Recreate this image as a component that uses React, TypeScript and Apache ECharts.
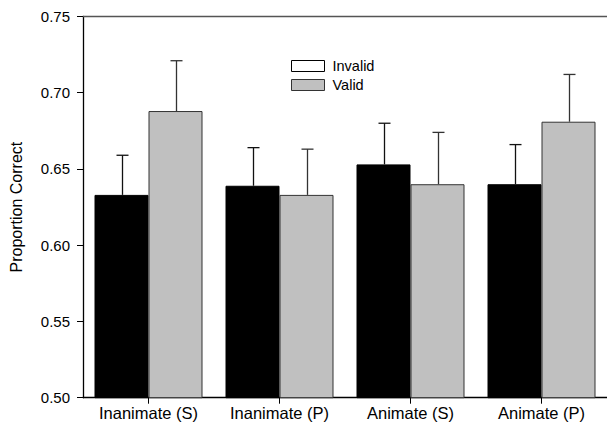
import React, { useEffect, useRef } from "react";
import * as echarts from "echarts";

const categories = ["Inanimate (S)", "Inanimate (P)", "Animate (S)", "Animate (P)"];
const invalidValues = [0.633, 0.639, 0.653, 0.640];
const invalidErrorTops = [0.659, 0.664, 0.680, 0.666];
const validValues = [0.688, 0.633, 0.640, 0.681];
const validErrorTops = [0.721, 0.663, 0.674, 0.712];
const yTicks = { min: 0.5, max: 0.75, interval: 0.05 };

const BAR_W = 54;

function errorSeries(name: string, values: number[], tops: number[], offset: number, color: string) {
  return {
    type: "custom",
    name: name + " err",
    xAxisIndex: 0,
    yAxisIndex: 0,
    z: 5,
    silent: true,
    data: values.map((v, i) => [i, v, tops[i]]),
    renderItem: (params: any, api: any) => {
      const i = api.value(0);
      const base = api.coord([i, api.value(1)]);
      const top = api.coord([i, api.value(2)]);
      const x = Math.round(base[0] + offset) + 0.5;
      const cap = 6;
      return {
        type: "group",
        children: [
          { type: "line", shape: { x1: x, y1: base[1], x2: x, y2: top[1] }, style: { stroke: color, lineWidth: 1.3 } },
          { type: "line", shape: { x1: x - cap, y1: top[1], x2: x + cap, y2: top[1] }, style: { stroke: color, lineWidth: 1.3 } },
        ],
      };
    },
  };
}

export default function App() {
  const ref = useRef<HTMLDivElement>(null);
  useEffect(() => {
    const chart = echarts.init(ref.current!, null, { renderer: "svg" });
    chart.setOption({
      animation: false,
      backgroundColor: "#ffffff",
      textStyle: { fontFamily: "Liberation Sans, Arial, sans-serif" },
      grid: { left: 82, top: 16.5, width: 529.6, height: 381.2, containLabel: false },
      legend: {
        orient: "vertical",
        left: 291,
        top: 58,
        itemWidth: 33,
        itemHeight: 11,
        itemGap: 3,
        padding: 0,
        icon: "rect",
        textStyle: { fontSize: 14.5, color: "#000", lineHeight: 16, padding: [0, 0, 0, 3] },
        data: [
          { name: "Invalid", itemStyle: { color: "#ffffff", borderColor: "#000", borderWidth: 1 } },
          { name: "Valid", itemStyle: { color: "#c0c0c0", borderColor: "#333", borderWidth: 1 } },
        ],
      },
      xAxis: [
        {
          type: "category",
          data: categories,
          position: "bottom",
          axisLine: { show: true, lineStyle: { color: "#000", width: 1.3 } },
          axisTick: { show: true, alignWithLabel: true, length: 6, lineStyle: { color: "#000" } },
          axisLabel: { fontSize: 16.5, color: "#000", margin: 7, interval: 0, hideOverlap: false },
          splitLine: { show: false },
        },
        {
          type: "category",
          data: categories,
          position: "top",
          axisLine: { show: true, lineStyle: { color: "#555", width: 1.3 } },
          axisTick: { show: false },
          axisLabel: { show: false },
        },
      ],
      yAxis: {
        type: "value",
        min: yTicks.min,
        max: yTicks.max,
        interval: yTicks.interval,
        name: "Proportion Correct",
        nameLocation: "middle",
        nameGap: 59,
        nameTextStyle: { fontSize: 16, color: "#000" },
        axisLine: { show: true, lineStyle: { color: "#000", width: 1.3 } },
        axisTick: { show: true, length: 6, lineStyle: { color: "#000" } },
        axisLabel: { fontSize: 15, color: "#000", margin: 13, formatter: (v: number) => v.toFixed(2) },
        splitLine: { show: false },
      },
      series: [
        {
          type: "bar",
          name: "Invalid",
          data: invalidValues,
          barWidth: BAR_W,
          barGap: "0%",
          itemStyle: { color: "#000000", borderColor: "#000", borderWidth: 1 },
        },
        {
          type: "bar",
          name: "Valid",
          data: validValues,
          barWidth: BAR_W,
          barGap: "0%",
          itemStyle: { color: "#c0c0c0", borderColor: "#333", borderWidth: 1 },
        },
        errorSeries("Invalid", invalidValues, invalidErrorTops, -BAR_W / 2, "#111"),
        errorSeries("Valid", validValues, validErrorTops, BAR_W / 2, "#333"),
      ],
    });
    return () => chart.dispose();
  }, []);
  return (
    <div
      ref={ref}
      style={{ position: "fixed", left: 0, top: 0, width: 607, height: 432, background: "#fff" }}
    />
  );
}
